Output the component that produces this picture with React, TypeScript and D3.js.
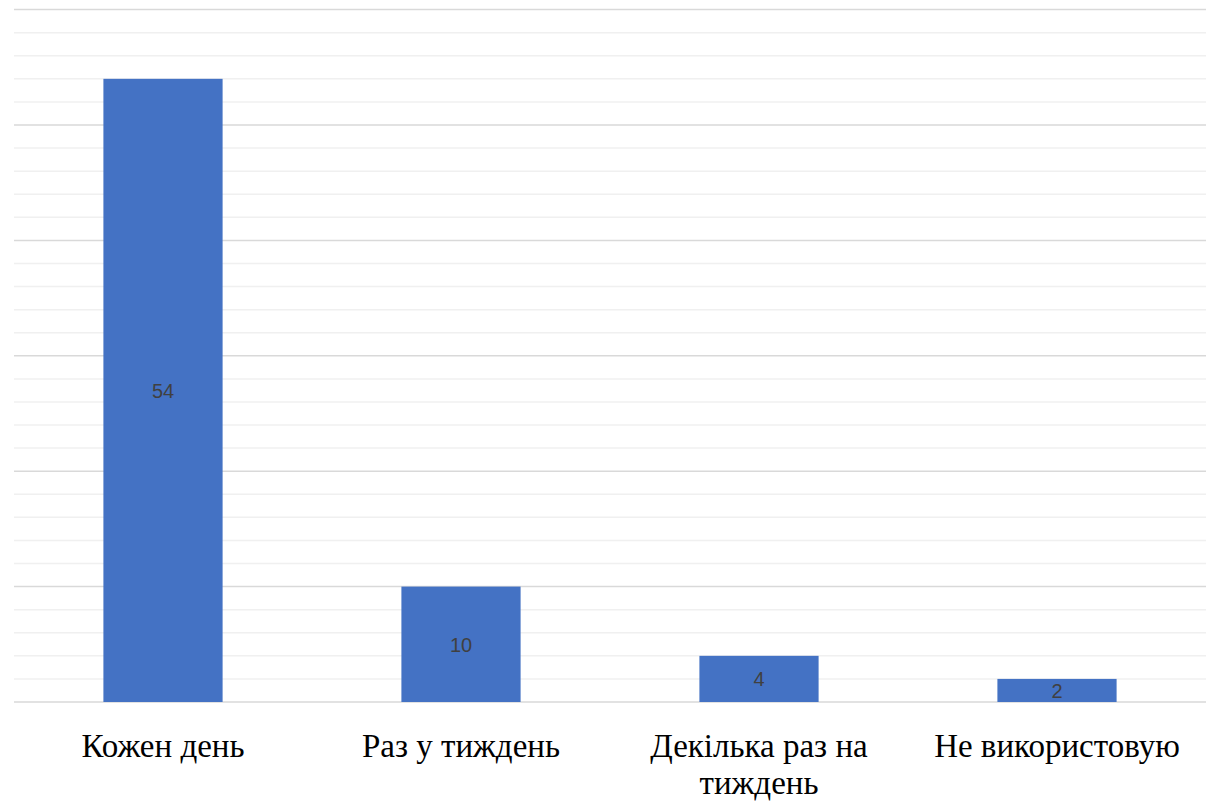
import React from "react";
import * as d3 from "d3";

const categories: string[][] = [
  ["Кожен день"],
  ["Раз у тиждень"],
  ["Декілька раз на", "тиждень"],
  ["Не використовую"],
];
const values: number[] = [54, 10, 4, 2];
const majorTicks: number[] = [0, 10, 20, 30, 40, 50, 60];
const minorTicks: number[] = d3.range(0, 61, 2);

export default function App() {
  const W = 1212;
  const H = 801;
  const left = 14;
  const right = 1206;
  const top = 9.6;
  const bottom = 702;

  const x = d3
    .scaleBand<number>()
    .domain(values.map((_, i) => i))
    .range([left, right])
    .paddingInner(0.6)
    .paddingOuter(0.3);
  const y = d3.scaleLinear().domain([0, 60]).range([bottom, top]);

  return (
    <svg
      width={W}
      height={H}
      style={{ position: "absolute", left: 0, top: 0, background: "#fff" }}
    >
      {minorTicks
        .filter((t) => t % 10 !== 0)
        .map((t) => (
          <line
            key={"mi" + t}
            x1={left}
            x2={right}
            y1={y(t)}
            y2={y(t)}
            stroke="#f0f0f0"
            strokeWidth={1.5}
          />
        ))}
      {majorTicks.map((t) => (
        <line
          key={"ma" + t}
          x1={left}
          x2={right}
          y1={y(t)}
          y2={y(t)}
          stroke="#d9d9d9"
          strokeWidth={1.5}
        />
      ))}
      {values.map((v, i) => (
        <rect
          key={"b" + i}
          x={x(i)}
          y={y(v)}
          width={x.bandwidth()}
          height={y(0) - y(v)}
          fill="#4472c4"
        />
      ))}
      {values.map((v, i) => (
        <text
          key={"l" + i}
          x={(x(i) as number) + x.bandwidth() / 2}
          y={(y(v) + y(0)) / 2}
          dy="0.36em"
          textAnchor="middle"
          style={{ fontFamily: "'Liberation Sans', 'DejaVu Sans', sans-serif", fontSize: "20px" }}
          fill="#404040"
        >
          {v}
        </text>
      ))}
      {categories.map((lines, i) => (
        <text
          key={"c" + i}
          x={(x(i) as number) + x.bandwidth() / 2}
          y={757}
          textAnchor="middle"
          style={{
            fontFamily:
              "'Times New Roman', Tinos, 'Liberation Serif', 'Noto Serif', 'DejaVu Serif', serif",
            fontSize: "33px",
          }}
          fill="#000"
        >
          {lines.map((ln, j) => (
            <tspan
              key={j}
              x={(x(i) as number) + x.bandwidth() / 2}
              dy={j === 0 ? 0 : 37}
            >
              {ln}
            </tspan>
          ))}
        </text>
      ))}
    </svg>
  );
}
